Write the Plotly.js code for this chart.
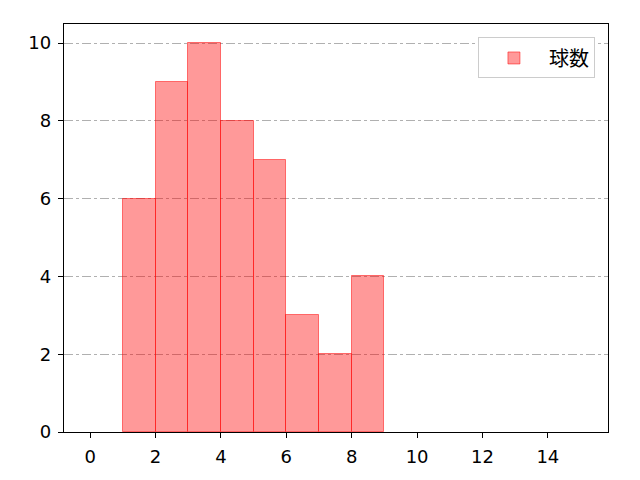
<!DOCTYPE html>
<html>
<head>
<meta charset="utf-8">
<script src="https://cdn.plot.ly/plotly-3.0.1.min.js"></script>
<style>body{margin:0;}</style>
</head>
<body>
<div id="myDiv" style="width:640px;height:480px;"></div>
<script>
  // histogram bins (left edges) and counts
  var binStarts = [1, 2, 3, 4, 5, 6, 7, 8];
  var counts = [6, 9, 10, 8, 7, 3, 2, 4];
  var xTicks = [0, 2, 4, 6, 8, 10, 12, 14];
  var yTicks = [0, 2, 4, 6, 8, 10];
  var seriesName = '球数';

  var centers = binStarts.map(function(b) { return b + 0.5; });

  var trace0 = {
    x: centers,
    y: counts,
    width: 1,
    name: seriesName,
    type: 'bar',
    marker: {
      color: 'rgba(255,0,0,0.4)',
      line: {color: 'rgba(255,0,0,0.5)', width: 1}
    }
  };

  var axisStyle = {
    showline: true,
    linecolor: 'black',
    linewidth: 1.3,
    mirror: true,
    ticks: 'outside',
    ticklen: 5,
    tickwidth: 1.3,
    tickcolor: 'black',
    zeroline: false,
    ticklabelstandoff: 3,
    tickfont: {family: '"DejaVu Sans", sans-serif', size: 18, color: 'black'}
  };

  var layout = {
    width: 640,
    height: 480,
    font: {family: '"Noto Sans CJK JP", "DejaVu Sans", sans-serif'},
    margin: {l: 64, r: 32, t: 24, b: 48},
    plot_bgcolor: 'white',
    paper_bgcolor: 'white',
    bargap: 0,
    showlegend: true,
    legend: {
      x: 0.976, y: 0.967, xanchor: 'right', yanchor: 'top',
      bordercolor: '#cccccc', borderwidth: 1,
      itemwidth: 60,
      font: {size: 20, color: 'black'}
    },
    xaxis: Object.assign({}, axisStyle, {
      range: [-0.8, 15.84],
      tickvals: xTicks,
      showgrid: false
    }),
    yaxis: Object.assign({}, axisStyle, {
      range: [0, 10.49],
      tickvals: yTicks,
      showgrid: true,
      gridcolor: '#b0b0b0',
      griddash: 'dashdot',
      gridwidth: 1
    })
  };

  Plotly.newPlot('myDiv', [trace0], layout, {displayModeBar: false});
</script>
</body>
</html>
